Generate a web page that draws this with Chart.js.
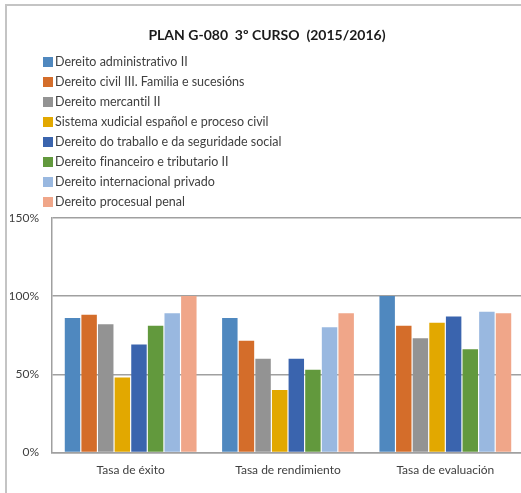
<!DOCTYPE html>
<html>
<head>
<meta charset="utf-8">
<script src="https://cdn.jsdelivr.net/npm/chart.js@4.4.0/dist/chart.umd.min.js"></script>
<style>
  html, body { margin: 0; padding: 0; background: #fff; overflow: hidden; width: 521px; height: 493px; }
  #frame { position: absolute; left: 5px; top: 4px; width: 700px; height: 700px; border: 2px solid #c4c4c4; }
  #wrap { position: absolute; left: 0; top: 0; width: 526px; height: 493px; }
  #legend { position: absolute; left: 43px; top: 52px; font: 12.5px Lato, "Open Sans", sans-serif; color: #404040; font-variant-ligatures: none; }
  #legend div { height: 20px; line-height: 20px; display: flex; align-items: center; white-space: nowrap; }
  #legend span.box { width: 10px; height: 10px; margin-right: 2px; display: inline-block; }
</style>
</head>
<body>
<div id="frame"></div>
<div id="wrap"><canvas id="myChart" width="526" height="493"></canvas></div>
<div id="legend"></div>
<script>
const categories = ["Tasa de éxito", "Tasa de rendimiento", "Tasa de evaluación"];
const subjects = [
  "Dereito administrativo II",
  "Dereito civil III. Familia e sucesións",
  "Dereito mercantil II",
  "Sistema xudicial español e proceso civil",
  "Dereito do traballo e da seguridade social",
  "Dereito financeiro e tributario II",
  "Dereito internacional privado",
  "Dereito procesual penal"
];
// valores en % por materia: [éxito, rendimento, avaliación]
const administrativo = [86, 86, 100];
const civil = [88, 71.5, 81];
const mercantil = [82, 60, 73];
const xudicial = [48, 40, 83];
const traballo = [69, 60, 87];
const financeiro = [81, 53, 66];
const internacional = [89, 80, 90];
const procesual = [100, 89, 89];
const yTicks = [0, 50, 100, 150];

const colors = ["#4f88bf", "#d46d2a", "#939393", "#e2a800", "#3a64ae", "#62993d", "#99b8e0", "#f0a689"];
const series = [administrativo, civil, mercantil, xudicial, traballo, financeiro, internacional, procesual];

const htmlLegend = {
  id: 'htmlLegend',
  afterUpdate(chart) {
    const box = document.getElementById('legend');
    box.innerHTML = '';
    chart.options.plugins.legend.labels.generateLabels(chart).forEach(item => {
      const row = document.createElement('div');
      const sq = document.createElement('span');
      sq.className = 'box';
      sq.style.background = item.fillStyle;
      row.appendChild(sq);
      row.appendChild(document.createTextNode(item.text));
      box.appendChild(row);
    });
  }
};

const fontFam = 'Lato, "Open Sans", sans-serif';
const ctx = document.getElementById('myChart').getContext('2d');
const grafica = new Chart(ctx, {
  type: 'bar',
  data: {
    labels: categories,
    datasets: series.map((data, i) => ({
      label: subjects[i],
      data: data,
      backgroundColor: colors[i],
      barPercentage: 0.93,
      categoryPercentage: 0.845
    }))
  },
  options: {
    responsive: false,
    animation: false,
    layout: { padding: { left: 10, right: 2, top: 0, bottom: 6 } },
    plugins: {
      legend: { display: false },
      tooltip: { enabled: false },
      title: {
        display: true,
        text: 'PLAN G-080  3º CURSO  (2015/2016)',
        color: '#1a1a1a',
        font: { family: fontFam, size: 14, weight: 'bold', lineHeight: 1.2 },
        padding: { top: 27, bottom: 174 }
      }
    },
    scales: {
      x: {
        grid: { display: false, drawTicks: false },
        border: { color: '#a0a0a0', width: 1.5 },
        ticks: { color: '#404040', padding: 10, font: { family: fontFam, size: 12 } }
      },
      y: {
        min: 0,
        max: 150,
        afterFit: s => { s.width = 42; },
        afterBuildTicks: s => { s.ticks = yTicks.map(v => ({ value: v })); },
        grid: { color: '#a0a0a0', lineWidth: 1.5, drawTicks: false },
        border: { color: '#a0a0a0', width: 1.5 },
        ticks: {
          color: '#404040',
          padding: 13,
          font: { family: fontFam, size: 12 },
          callback: v => v + '%'
        }
      }
    }
  },
  plugins: [htmlLegend]
});
</script>
</body>
</html>
